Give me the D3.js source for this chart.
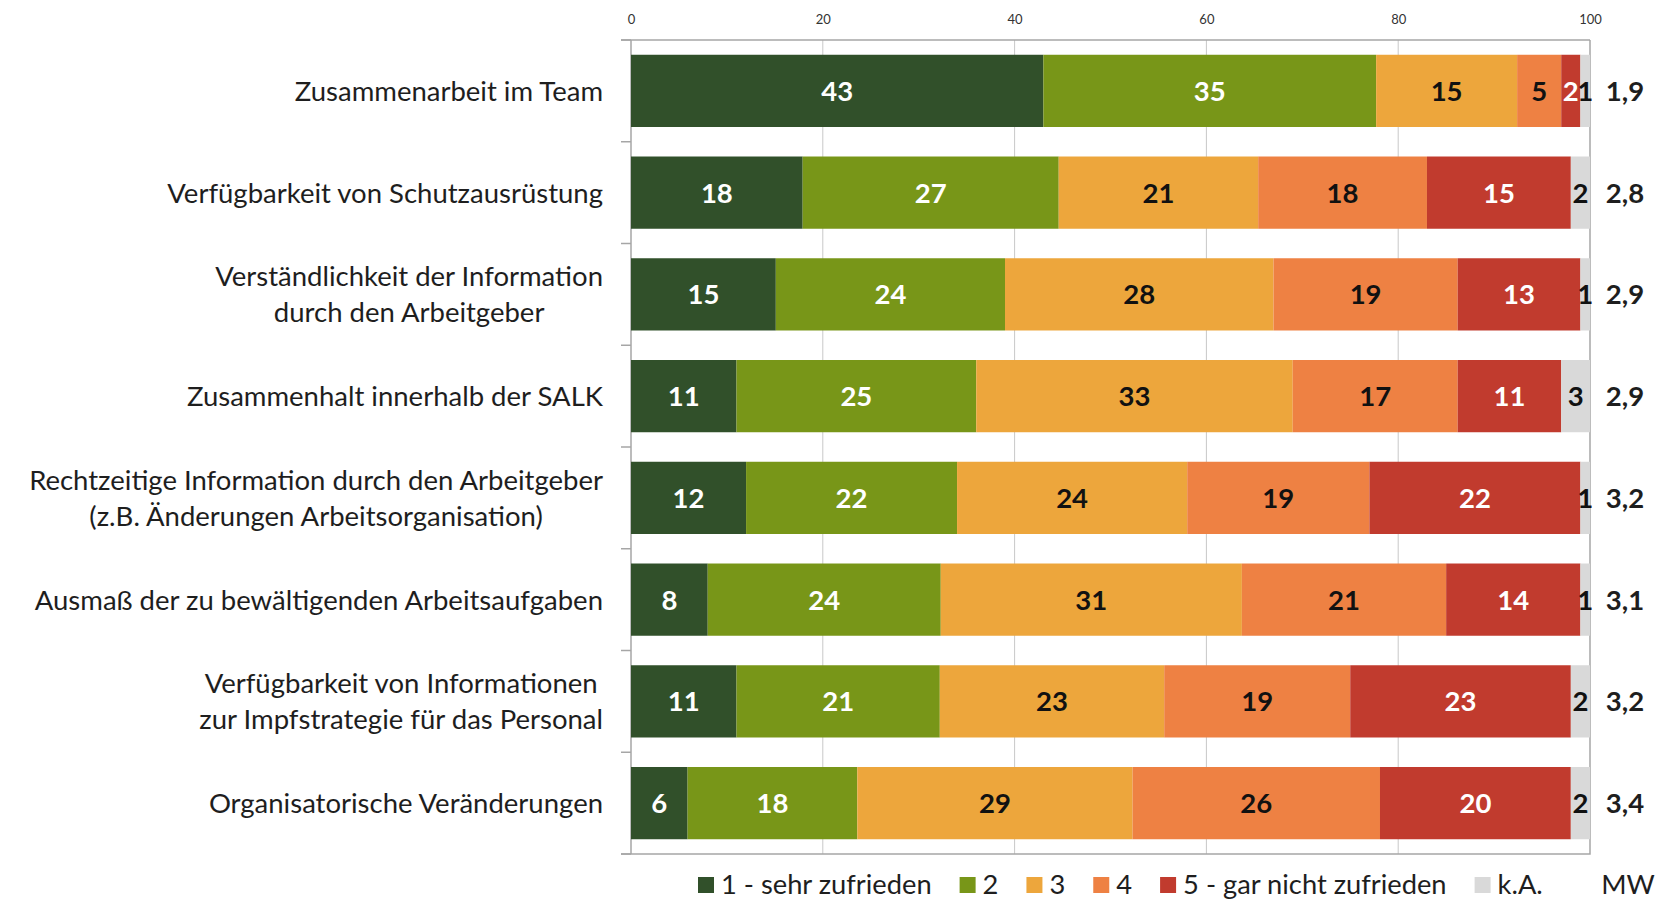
<!DOCTYPE html>
<html>
<head>
<meta charset="utf-8">
<script src="https://cdn.jsdelivr.net/npm/d3@7"></script>
<style>
  body { margin: 0; background: #fff; }
  svg text { font-family: Lato, "Open Sans", sans-serif; fill: #1e1e1e; }
</style>
</head>
<body>
<svg id="chart"></svg>
<script>
'use strict'

// categories (line breaks marked with |)
const categories = [
  'Zusammenarbeit im Team',
  'Verfügbarkeit von Schutzausrüstung',
  'Verständlichkeit der Information|durch den Arbeitgeber',
  'Zusammenhalt innerhalb der SALK',
  'Rechtzeitige Information durch den Arbeitgeber|(z.B. Änderungen Arbeitsorganisation)',
  'Ausmaß der zu bewältigenden Arbeitsaufgaben',
  'Verfügbarkeit von Informationen|zur Impfstrategie für das Personal',
  'Organisatorische Veränderungen'
]
// percentages per answer
const sehrZufrieden = [43.0, 17.9, 15.1, 11.0, 12.0, 8.0, 11.0, 5.9]
const zwei          = [34.7, 26.7, 23.9, 25.0, 22.0, 24.3, 21.2, 17.7]
const drei          = [14.7, 20.8, 28.0, 33.0, 24.0, 31.4, 23.4, 28.7]
const vier          = [4.6, 17.6, 19.2, 17.2, 19.0, 21.3, 19.4, 25.8]
const garNicht      = [2.0, 15.0, 12.8, 10.8, 22.0, 14.0, 23.0, 19.9]
const keineAngabe   = [1.0, 2.0, 1.0, 3.0, 1.0, 1.0, 2.0, 2.0]
const mittelwert    = [1.9, 2.8, 2.9, 2.9, 3.2, 3.1, 3.2, 3.4]

const seriesNames = ['1 - sehr zufrieden', '2', '3', '4', '5 - gar nicht zufrieden', 'k.A.']
const seriesValues = [sehrZufrieden, zwei, drei, vier, garNicht, keineAngabe]
const colors = ['#31502a', '#789618', '#eda63c', '#ee8143', '#c13b2e', '#d9d9d9']
const labelColors = ['#fff', '#fff', '#111', '#111', '#fff', '#111']
const xTicks = [0, 20, 40, 60, 80, 100]

const width = 1664, height = 903
const margins = {top: 40, right: 74, bottom: 49, left: 631}
const mwX = 1625

const svg = d3.select('#chart').attr('width', width).attr('height', height)

// rows for d3.stack
const rows = categories.map((c, i) => {
  const row = {cat: c}
  seriesNames.forEach((s, j) => { row[s] = seriesValues[j][i] })
  return row
})
const stacked = d3.stack().keys(seriesNames)(rows)

const x = d3.scaleLinear().domain([0, 100]).range([margins.left, width - margins.right])
const y = d3.scaleBand().domain(categories)
  .range([margins.top, height - margins.bottom])
  .paddingInner(0.29).paddingOuter(0.145)

// vertical gridlines
svg.append('g').selectAll('line')
  .data(xTicks.slice(1, -1))
  .join('line')
    .attr('x1', d => x(d)).attr('x2', d => x(d))
    .attr('y1', margins.top).attr('y2', height - margins.bottom)
    .attr('stroke', '#c8c8c8').attr('stroke-width', 1)

// plot border (right + bottom)
svg.append('path')
  .attr('d', `M${x(100)},${margins.top}V${height - margins.bottom}H${margins.left - 10}`)
  .attr('fill', 'none').attr('stroke', '#a6a6a6').attr('stroke-width', 1.5)

// top axis
const xAxis = svg.append('g')
  .attr('transform', `translate(0,${margins.top})`)
  .call(d3.axisTop(x).tickValues(xTicks).tickSize(0).tickPadding(16))
xAxis.select('.domain').remove()
xAxis.selectAll('text').style('font-size', '13px').style('fill', '#333')
svg.append('line')
  .attr('x1', margins.left - 10).attr('x2', x(100))
  .attr('y1', margins.top).attr('y2', margins.top)
  .attr('stroke', '#a6a6a6').attr('stroke-width', 1.5)

// left axis with ticks between categories
svg.append('line')
  .attr('x1', margins.left).attr('x2', margins.left)
  .attr('y1', margins.top).attr('y2', height - margins.bottom)
  .attr('stroke', '#a6a6a6').attr('stroke-width', 1.5)
svg.append('g').selectAll('line')
  .data(d3.range(categories.length + 1))
  .join('line')
    .attr('x1', margins.left - 10).attr('x2', margins.left)
    .attr('y1', i => margins.top + i * y.step()).attr('y2', i => margins.top + i * y.step())
    .attr('stroke', '#a6a6a6').attr('stroke-width', 1.5)

// bars
const layer = svg.append('g').selectAll('g')
  .data(stacked)
  .join('g')
    .attr('fill', (d, i) => colors[i])
layer.selectAll('rect')
  .data(d => d)
  .join('rect')
    .attr('x', d => x(d[0]))
    .attr('y', d => y(d.data.cat))
    .attr('width', d => x(d[1]) - x(d[0]))
    .attr('height', y.bandwidth())

// value labels
const fmt = d3.format('.0f')
svg.append('g').selectAll('g')
  .data(stacked)
  .join('g')
    .attr('fill', (d, i) => labelColors[i])
  .selectAll('text')
  .data(d => d)
  .join('text')
    .attr('x', d => (x(d[0]) + x(d[1])) / 2)
    .attr('y', d => y(d.data.cat) + y.bandwidth() / 2)
    .attr('dy', '0.36em')
    .attr('text-anchor', 'middle')
    .style('fill', 'inherit')
    .style('font-size', '27.5px').style('font-weight', 'bold')
    .text(d => fmt(d[1] - d[0]))

// MW column
svg.append('g').selectAll('text')
  .data(mittelwert)
  .join('text')
    .attr('x', mwX)
    .attr('y', (d, i) => y(categories[i]) + y.bandwidth() / 2)
    .attr('dy', '0.36em')
    .attr('text-anchor', 'middle')
    .style('font-size', '27.5px').style('font-weight', 'bold')
    .text(d => d.toFixed(1).replace('.', ','))

// category labels, multi-line labels centred on their widest line
const lineH = 36
categories.forEach(c => {
  const lines = c.split('|')
  const cy = y(c) + y.bandwidth() / 2
  const t = svg.append('text')
    .style('font-size', '27.5px')
  lines.forEach((l, k) => {
    t.append('tspan').attr('x', 0)
      .attr('y', cy + (k - (lines.length - 1) / 2) * lineH)
      .attr('dy', '0.36em')
      .attr('text-anchor', 'middle')
      .text(l)
  })
  const w = d3.max(t.selectAll('tspan').nodes(), n => n.getComputedTextLength())
  t.selectAll('tspan').attr('x', margins.left - 28 - w / 2)
})

// legend (font a bit smaller and stretched so it stays inside the bottom edge)
const legendY = 885
const legend = svg.append('g').attr('transform', `translate(698,${legendY})`)
let lx = 0
seriesNames.forEach((s, i) => {
  const g = legend.append('g').attr('transform', `translate(${lx},0)`)
  g.append('rect').attr('x', 0).attr('y', -8).attr('width', 16).attr('height', 16).attr('fill', colors[i])
  const t = g.append('text').attr('dy', '0.34em')
    .attr('transform', 'translate(23,0) scale(1.05,1)')
    .style('font-size', '26px')
    .text(s)
  lx += 23 + t.node().getComputedTextLength() * 1.05 + 28
})
svg.append('text')
  .attr('transform', `translate(${mwX + 3},${legendY}) scale(1.05,1)`)
  .attr('dy', '0.34em')
  .attr('text-anchor', 'middle')
  .style('font-size', '26px')
  .text('MW')
</script>
</body>
</html>
